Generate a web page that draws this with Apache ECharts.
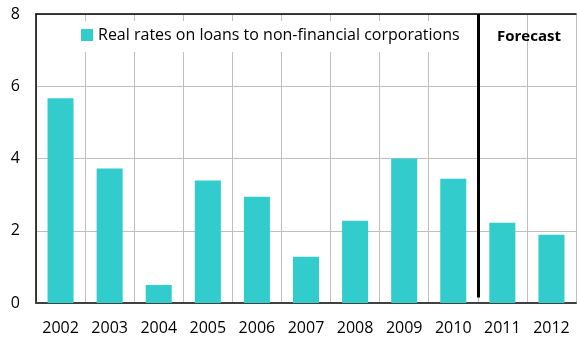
<!DOCTYPE html>
<html><head><meta charset="utf-8">
<script src="https://cdn.jsdelivr.net/npm/echarts@6/dist/echarts.min.js"></script>
<style>html,body{margin:0;padding:0;background:#fff}#c{width:577px;height:340px}</style>
</head><body><div id="c"></div>
<script>
var categories = ['2002','2003','2004','2005','2006','2007','2008','2009','2010','2011','2012'];
var realRates = [5.67, 3.72, 0.5, 3.39, 2.94, 1.28, 2.28, 4.0, 3.44, 2.22, 1.89];
var seriesName = 'Real rates on loans to non-financial corporations';
var forecastLabel = 'Forecast';
var forecastBoundary = 9; // boundary index between 2010 and 2011
var yTicks = {min: 0, max: 8, interval: 2};

var FONT = 'Open Sans';
var chart = echarts.init(document.getElementById('c'), null, {renderer: 'canvas'});
chart.setOption({
  animation: false,
  backgroundColor: '#fff',
  grid: {left: 36, right: 1, top: 14, bottom: 37},
  title: {
    text: forecastLabel, left: 492, top: 24,
    textStyle: {fontFamily: FONT, fontWeight: 'bold', fontSize: 15, color: '#000'}
  },
  legend: {
    data: [seriesName], left: 75, top: 21,
    backgroundColor: '#fff', padding: [6, 6, 9, 6],
    itemWidth: 12, itemHeight: 12, itemGap: 5,
    icon: 'rect',
    textStyle: {fontFamily: FONT, fontSize: 16, color: '#000'}
  },
  xAxis: [{
    type: 'category', data: categories, boundaryGap: true,
    axisLine: {show: true, lineStyle: {color: '#404040', width: 2}},
    axisTick: {show: false},
    axisLabel: {fontFamily: FONT, fontSize: 16, color: '#000', margin: 17},
    splitLine: {show: true, interval: 0, lineStyle: {color: '#BFBFBF', width: 1}}
  }, {
    type: 'value', min: 0, max: categories.length, position: 'top',
    axisLine: {show: true, onZero: false, lineStyle: {color: '#000', width: 1.5}},
    axisTick: {show: false}, axisLabel: {show: false}, splitLine: {show: false}
  }],
  yAxis: {
    type: 'value', min: yTicks.min, max: yTicks.max, interval: yTicks.interval,
    axisLine: {show: true, lineStyle: {color: '#000', width: 1.5}},
    axisTick: {show: false},
    axisLabel: {fontFamily: FONT, fontSize: 16, color: '#000', margin: 16},
    splitLine: {show: true, lineStyle: {color: '#BFBFBF', width: 1}}
  },
  series: [{
    name: seriesName, type: 'bar', data: realRates,
    xAxisIndex: 0, barWidth: '53%',
    itemStyle: {color: '#33CCCC'}
  }, {
    type: 'line', xAxisIndex: 1, data: [], silent: true,
    markLine: {
      silent: true, symbol: ['none', 'none'], label: {show: false},
      lineStyle: {color: '#000', width: 3, type: 'solid'},
      data: [[{coord: [forecastBoundary, 0.15]}, {coord: [forecastBoundary, 8]}]]
    }
  }]
});
</script></body></html>
